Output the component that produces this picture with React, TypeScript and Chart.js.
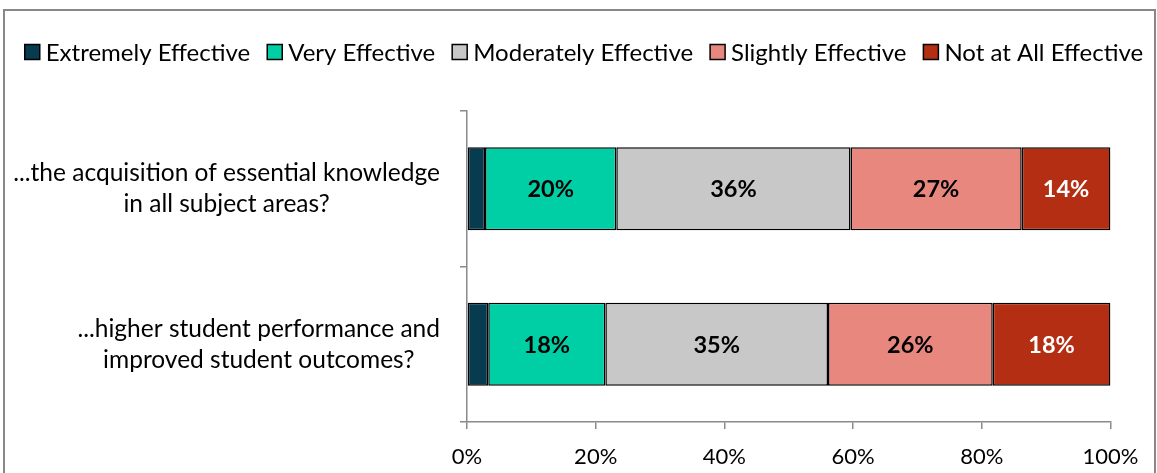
import React, { useEffect, useRef } from 'react';
import { Chart, registerables } from 'chart.js';

Chart.register(...registerables);

// ---- data ----
const categories: string[][] = [
  ['...the acquisition of essential knowledge', 'in all subject areas?'],
  ['...higher student performance and', 'improved student outcomes?'],
];
const seriesNames = [
  'Extremely Effective',
  'Very Effective',
  'Moderately Effective',
  'Slightly Effective',
  'Not at All Effective',
];
const extremelyEffective = [2.8, 3.3];
const veryEffective = [20.4, 18.2];
const moderatelyEffective = [36.4, 34.6];
const slightlyEffective = [26.6, 25.6];
const notAtAllEffective = [13.8, 18.3];
const xTickValues = [0, 20, 40, 60, 80, 100];

// ---- styles ----
const FONT = 'Lato, "Open Sans", sans-serif';
const seriesColors = ['#063B50', '#00CFA6', '#C8C8C8', '#E8877E', '#B42E13'];
const labelColors = [null, '#000000', '#000000', '#000000', '#FFFFFF'];
const AXIS = '#8A8A8A';

const seriesValues = [
  extremelyEffective,
  veryEffective,
  moderatelyEffective,
  slightlyEffective,
  notAtAllEffective,
];

const framePlugin = {
  id: 'frame',
  beforeDraw(chart: any) {
    const { ctx, width, height } = chart;
    ctx.save();
    ctx.fillStyle = '#FFFFFF';
    ctx.fillRect(0, 0, width, height);
    ctx.strokeStyle = '#888888';
    ctx.lineWidth = 2;
    ctx.strokeRect(4, 10, 1151, 600);
    ctx.restore();
  },
};

const legendPlugin = {
  id: 'customLegend',
  afterDraw(chart: any) {
    const { ctx } = chart;
    const box = 15;
    const gap = 6;
    const itemGap = 17;
    ctx.save();
    ctx.font = `24px ${FONT}`;
    const widths = seriesNames.map((n) => ctx.measureText(n).width);
    const total =
      widths.reduce((a, b) => a + b, 0) + seriesNames.length * (box + gap) + (seriesNames.length - 1) * itemGap;
    let x = 584 - total / 2;
    const cy = 52;
    seriesNames.forEach((name, i) => {
      ctx.fillStyle = seriesColors[i];
      ctx.fillRect(x, cy - box / 2, box, box);
      ctx.strokeStyle = '#000000';
      ctx.lineWidth = 1.5;
      ctx.strokeRect(x, cy - box / 2, box, box);
      ctx.fillStyle = '#000000';
      ctx.textAlign = 'left';
      ctx.textBaseline = 'middle';
      ctx.fillText(name, x + box + gap, cy + 1);
      x += box + gap + widths[i] + itemGap;
    });
    ctx.restore();
  },
};

const yLabelPlugin = {
  id: 'yLabels',
  afterDraw(chart: any) {
    const { ctx } = chart;
    const y = chart.scales.y;
    ctx.save();
    ctx.font = `24.5px ${FONT}`;
    ctx.fillStyle = '#000000';
    ctx.textAlign = 'center';
    ctx.textBaseline = 'middle';
    const lineH = 31;
    categories.forEach((lines, i) => {
      const cy = y.getPixelForTick(i);
      const w = Math.max(...lines.map((l) => ctx.measureText(l).width));
      const right = y.right - 27;
      const cx = right - w / 2;
      lines.forEach((l, j) => {
        ctx.fillText(l, cx, cy + (j - (lines.length - 1) / 2) * lineH);
      });
    });
    ctx.restore();
  },
};

const valueLabelPlugin = {
  id: 'valueLabels',
  afterDatasetsDraw(chart: any) {
    const { ctx } = chart;
    ctx.save();
    ctx.font = `bold 23.5px ${FONT}`;
    ctx.textAlign = 'center';
    ctx.textBaseline = 'middle';
    chart.data.datasets.forEach((ds: any, i: number) => {
      const color = labelColors[i];
      if (!color) return;
      const meta = chart.getDatasetMeta(i);
      meta.data.forEach((el: any, j: number) => {
        const v = ds.data[j];
        ctx.fillStyle = color;
        ctx.fillText(`${Math.round(v)}%`, (el.x + el.base) / 2, el.y + 1);
      });
    });
    ctx.restore();
  },
};

export default function App() {
  const ref = useRef<HTMLCanvasElement | null>(null);

  useEffect(() => {
    document.body.style.margin = '0';
    document.body.style.overflow = 'hidden';
    const canvas = ref.current;
    if (!canvas) return;
    const chart = new Chart(canvas, {
      type: 'bar',
      data: {
        labels: categories.map((c) => c.join(' ')),
        datasets: seriesNames.map((name, i) => ({
          label: name,
          data: seriesValues[i],
          backgroundColor: seriesColors[i],
          borderColor: '#000000',
          borderWidth: 1.5,
          borderSkipped: false,
          categoryPercentage: 1,
          barPercentage: 0.535,
        })),
      },
      options: {
        indexAxis: 'y',
        animation: false,
        responsive: false,
        devicePixelRatio: 1,
        layout: { padding: { top: 111, right: 46.5, bottom: 0, left: 0 } },
        plugins: {
          legend: { display: false },
          tooltip: { enabled: false },
        },
        scales: {
          x: {
            stacked: true,
            min: 0,
            max: 100,
            afterBuildTicks: (s: any) => {
              s.ticks = xTickValues.map((v) => ({ value: v }));
            },
            afterFit: (s: any) => {
              s.height = 51;
            },
            grid: {
              display: true,
              drawOnChartArea: false,
              drawTicks: true,
              tickLength: 7,
              color: AXIS,
              lineWidth: 1.5,
            },
            border: { display: true, color: AXIS, width: 1.5 },
            ticks: {
              padding: 15,
              color: '#000000',
              font: { family: FONT, size: 22 },
              callback: (v: any) => `${v}%`,
              maxRotation: 0,
            },
          },
          y: {
            stacked: true,
            offset: true,
            afterFit: (s: any) => {
              s.width = 467;
            },
            grid: {
              display: true,
              offset: true,
              drawOnChartArea: false,
              drawTicks: true,
              tickLength: 7,
              color: AXIS,
              lineWidth: 1.5,
            },
            border: { display: true, color: AXIS, width: 1.5 },
            ticks: { display: false },
          },
        },
      },
      plugins: [framePlugin, legendPlugin, yLabelPlugin, valueLabelPlugin],
    } as any);
    return () => chart.destroy();
  }, []);

  return (
    <div style={{ width: 1157, height: 473, overflow: 'hidden' }}>
      <canvas ref={ref} width={1157} height={473} style={{ display: 'block' }} />
    </div>
  );
}
